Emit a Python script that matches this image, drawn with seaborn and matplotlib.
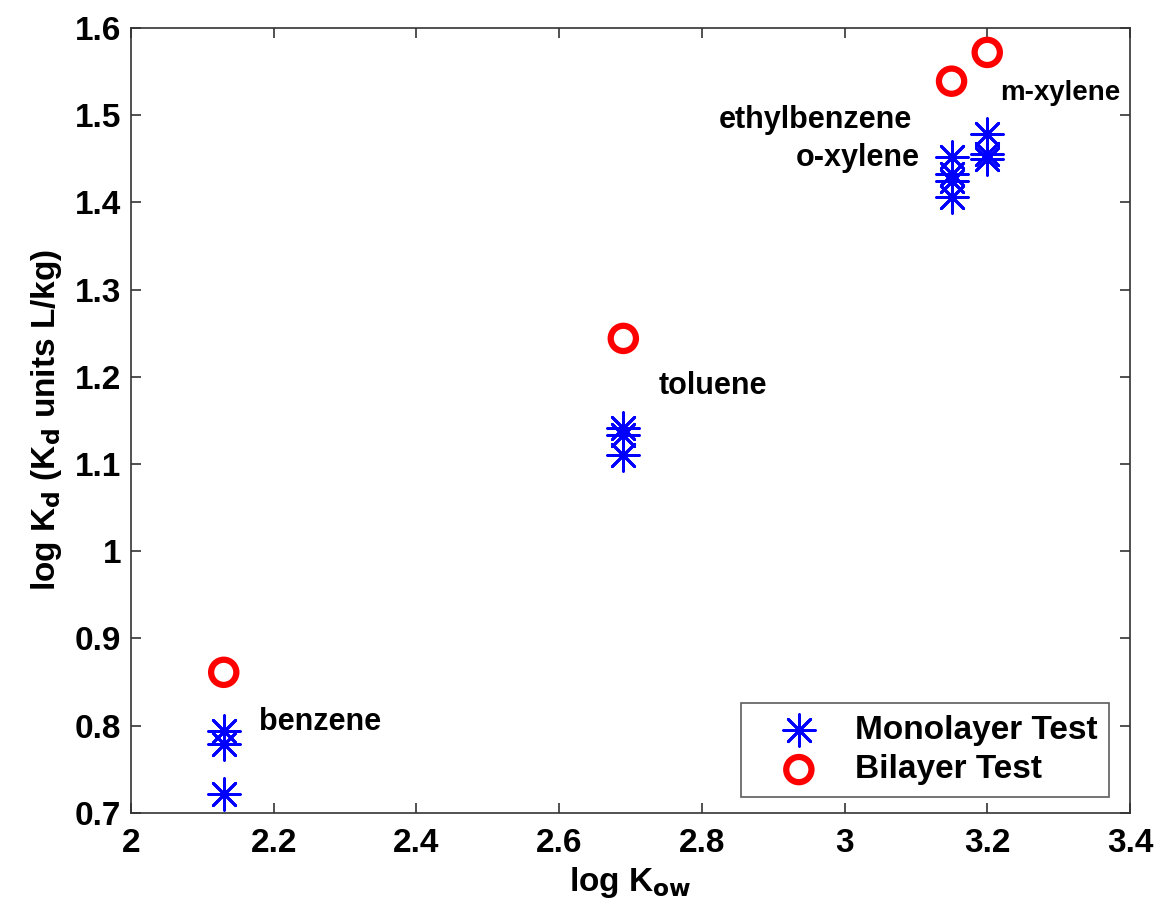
import matplotlib
matplotlib.use("Agg")
import matplotlib.pyplot as plt
from matplotlib.ticker import FormatStrFormatter, FixedLocator
import seaborn as sns
import pandas as pd

# Monolayer test: log Kow vs log Kd
mono_logkow = [2.13, 2.13, 2.13,
               2.69, 2.69, 2.69,
               3.15, 3.15, 3.15, 3.15,
               3.20, 3.20, 3.20]
mono_logkd = [0.794, 0.779, 0.721,
              1.141, 1.133, 1.110,
              1.452, 1.432, 1.425, 1.406,
              1.478, 1.455, 1.450]

# Bilayer test
bi_logkow = [2.13, 2.69, 3.15, 3.20]
bi_logkd = [0.861, 1.244, 1.539, 1.572]

compounds = ["benzene", "toluene", "ethylbenzene", "o-xylene", "m-xylene"]
compound_x = [2.18, 2.74, 3.095, 3.106, 3.218]
compound_y = [0.804, 1.189, 1.494, 1.451, 1.525]
compound_ha = ["left", "left", "right", "right", "left"]
compound_size = [22, 22, 22, 22, 20]

x_ticks = [2, 2.2, 2.4, 2.6, 2.8, 3, 3.2, 3.4]
y_ticks = [0.7, 0.8, 0.9, 1.0, 1.1, 1.2, 1.3, 1.4, 1.5, 1.6]

sns.set_theme(style="ticks")
plt.rcParams["font.family"] = ["Liberation Sans", "DejaVu Sans"]
plt.rcParams["font.weight"] = "bold"
plt.rcParams["axes.labelweight"] = "bold"
plt.rcParams["mathtext.default"] = "bf"
for key in ["text.color", "axes.labelcolor", "xtick.labelcolor", "ytick.labelcolor"]:
    plt.rcParams[key] = "black"

mono = pd.DataFrame({"logKow": mono_logkow, "logKd": mono_logkd})
bi = pd.DataFrame({"logKow": bi_logkow, "logKd": bi_logkd})

fig = plt.figure(figsize=(11.6, 9.15), dpi=100)
ax = fig.add_axes([0.1129, 0.1118, 0.9741 - 0.1129, 0.9694 - 0.1118])

asterisk = (8, 2, 0)
sns.scatterplot(data=mono, x="logKow", y="logKd", ax=ax, marker=asterisk,
                s=520, color="#0000ff", edgecolor="#0000ff", linewidth=2.0,
                label="Monolayer Test", zorder=3)
sns.scatterplot(data=bi, x="logKow", y="logKd", ax=ax, marker="o",
                s=330, facecolor="none", edgecolor="#ff0000", linewidth=4.5,
                label="Bilayer Test", zorder=4)

for name, cx, cy, ha, fs in zip(compounds, compound_x, compound_y,
                                compound_ha, compound_size):
    ax.text(cx, cy, name, ha=ha, va="center", fontsize=fs, fontweight="bold",
            color="black")

ax.set_xlim(2, 3.4)
ax.set_ylim(0.7, 1.6)
ax.xaxis.set_major_locator(FixedLocator(x_ticks))
ax.yaxis.set_major_locator(FixedLocator(y_ticks))
ax.xaxis.set_major_formatter(FormatStrFormatter("%g"))
ax.yaxis.set_major_formatter(FormatStrFormatter("%g"))
ax.tick_params(direction="in", length=7, width=1.2, top=True, right=True,
               labelsize=24, color="#333333")
ax.tick_params(axis="x", pad=11)
ax.tick_params(axis="y", pad=7)
for lbl in ax.get_xticklabels() + ax.get_yticklabels():
    lbl.set_fontweight("bold")
for side in ["top", "bottom", "left", "right"]:
    ax.spines[side].set_visible(True)
    ax.spines[side].set_color("#333333")
    ax.spines[side].set_linewidth(1.2)

ax.set_xlabel(r"log K$_{\mathbf{ow}}$", fontsize=24, fontweight="bold", labelpad=4)
ax.set_ylabel(r"log K$_{\mathbf{d}}$ (K$_{\mathbf{d}}$ units L/kg)", fontsize=24,
              fontweight="bold", labelpad=8)

leg = ax.legend(loc="lower right", bbox_to_anchor=(0.979, 0.020), frameon=True,
                fancybox=False, edgecolor="#333333",
                prop={"weight": "bold", "size": 24}, handletextpad=0.3,
                borderpad=0.35, labelspacing=0.25, handlelength=2.75,
                borderaxespad=0)
leg.get_frame().set_linewidth(1.2)

fig.savefig("out.png", dpi=100, facecolor="white")
